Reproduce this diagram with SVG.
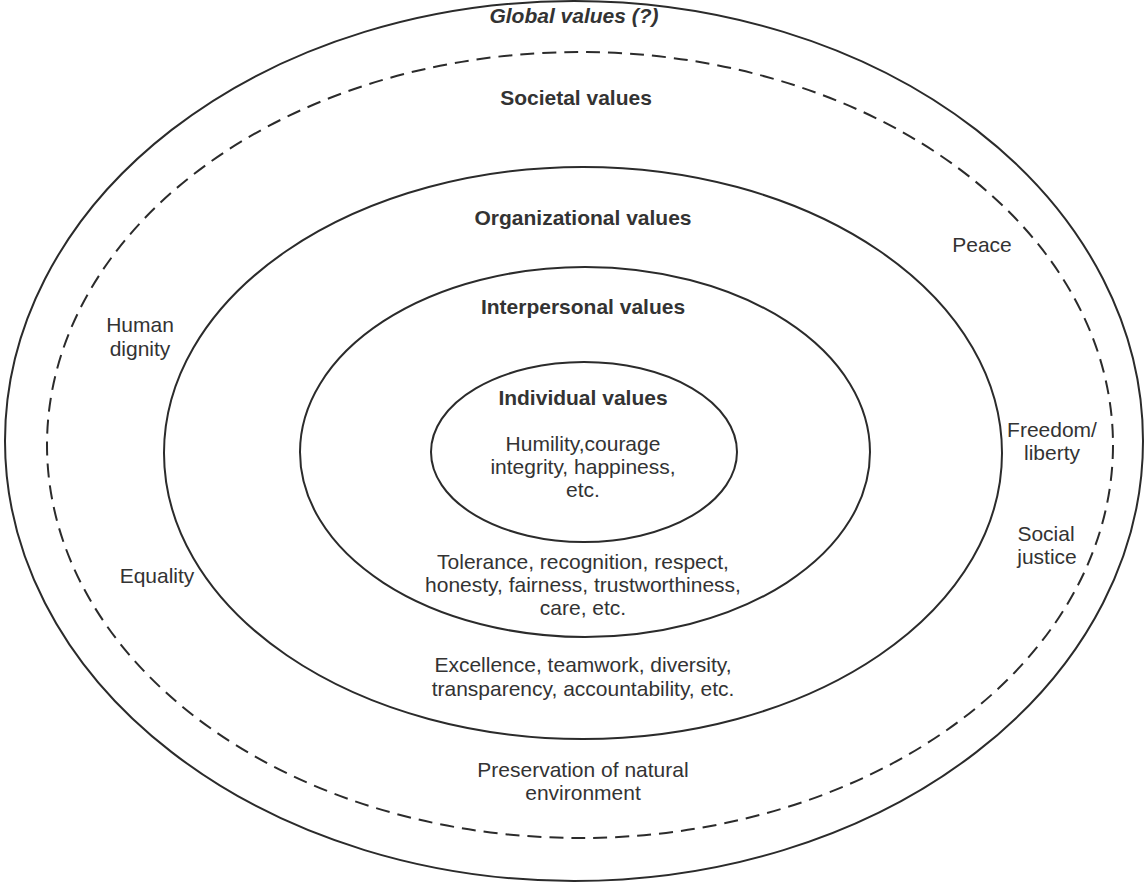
<svg xmlns="http://www.w3.org/2000/svg" width="1148" height="884" viewBox="0 0 1148 884">
<style>
.ring{fill:none;stroke:#2b2b2b;stroke-width:2}
.dash{stroke-dasharray:14 8}
text{font-family:"Liberation Sans",Arial,sans-serif;font-size:21px;fill:#333;text-anchor:middle}
.t{font-weight:bold}
.gi{font-weight:bold;font-style:italic}
</style>
<rect width="1148" height="884" fill="#fff"/>
<g id="global">
<ellipse class="ring" cx="574" cy="441" rx="569" ry="440"/>
<text class="gi" x="574" y="23">Global values (?)</text>
</g>
<g id="societal">
<ellipse class="ring dash" cx="580" cy="445" rx="533" ry="393"/>
<text class="t" x="576" y="105">Societal values</text>
<text x="140" y="332">Human</text>
<text x="140" y="356">dignity</text>
<text x="982" y="252">Peace</text>
<text x="1052" y="437">Freedom/</text>
<text x="1052" y="460">liberty</text>
<text x="1046" y="541">Social</text>
<text x="1047" y="564">justice</text>
<text x="157" y="583">Equality</text>
<text x="583" y="777">Preservation of natural</text>
<text x="583" y="800">environment</text>
</g>
<g id="organizational">
<ellipse class="ring" cx="583" cy="453" rx="419" ry="286"/>
<text class="t" x="583" y="225">Organizational values</text>
<text x="583" y="672">Excellence, teamwork, diversity,</text>
<text x="583" y="696">transparency, accountability, etc.</text>
</g>
<g id="interpersonal">
<ellipse class="ring" cx="585" cy="452" rx="285" ry="185"/>
<text class="t" x="583" y="314">Interpersonal values</text>
<text x="583" y="569">Tolerance, recognition, respect,</text>
<text x="583" y="592">honesty, fairness, trustworthiness,</text>
<text x="583" y="615">care, etc.</text>
</g>
<g id="individual">
<ellipse class="ring" cx="584" cy="452" rx="153" ry="90"/>
<text class="t" x="583" y="405">Individual values</text>
<text x="583" y="451">Humility,courage</text>
<text x="583" y="474">integrity, happiness,</text>
<text x="583" y="497">etc.</text>
</g>
<g id="connectors"></g>
</svg>
